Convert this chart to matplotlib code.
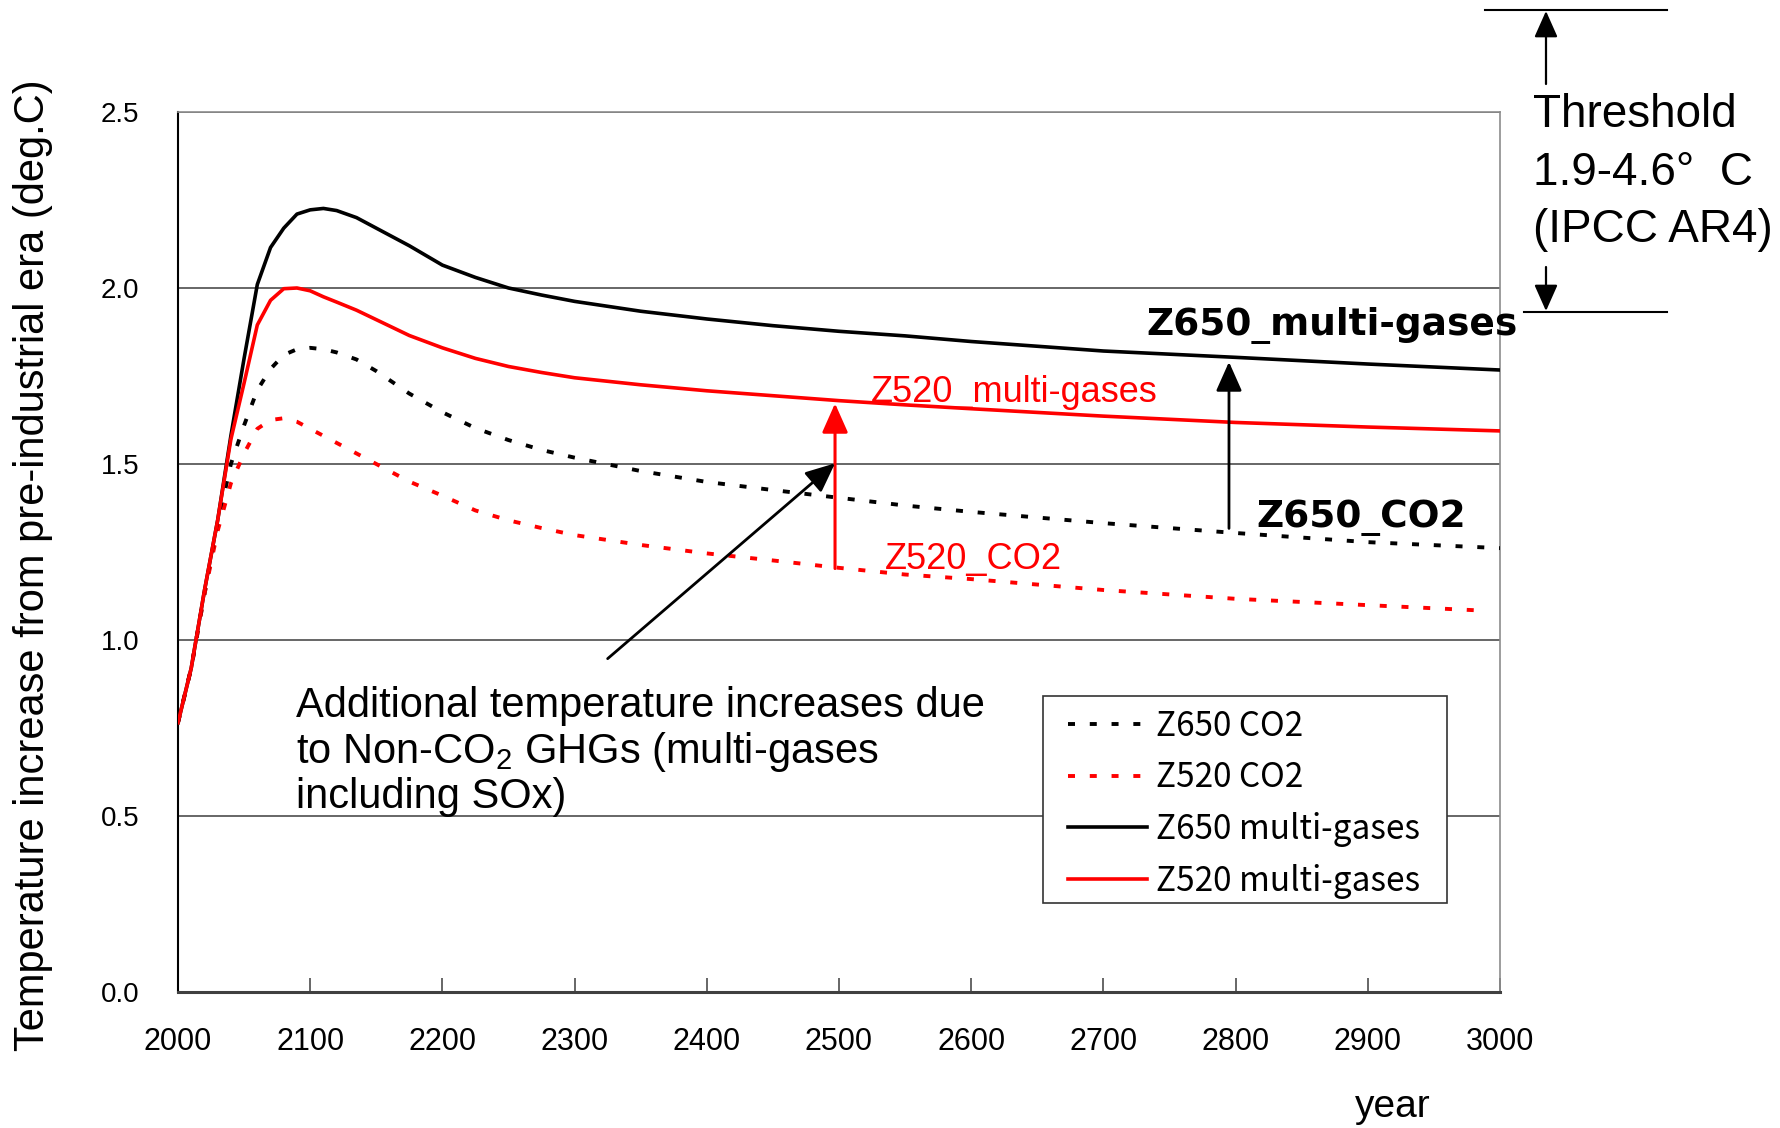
import numpy as np
import matplotlib.pyplot as plt
from matplotlib.lines import Line2D
from matplotlib.patches import Rectangle

plt.rcParams['font.family'] = ['Liberation Sans', 'DejaVu Sans']
plt.rcParams['mathtext.fontset'] = 'custom'
plt.rcParams['mathtext.rm'] = 'Liberation Sans'

# ---------------------------------------------------------------
# data
# ---------------------------------------------------------------
years = [2000, 2010, 2020, 2030, 2040, 2050, 2060, 2070, 2080, 2090,
         2100, 2110, 2120, 2135, 2150, 2175, 2200, 2225, 2250, 2275,
         2300, 2350, 2400, 2450, 2500, 2550, 2600, 2700, 2800, 2900, 3000]

z650_co2 = [0.765, 0.92, 1.13, 1.33, 1.50, 1.61, 1.71, 1.77, 1.81, 1.826,
            1.83, 1.826, 1.817, 1.797, 1.764, 1.70, 1.647, 1.602, 1.568, 1.54,
            1.518, 1.48, 1.449, 1.426, 1.404, 1.382, 1.364, 1.332, 1.304, 1.278, 1.261]

z520_co2 = [0.765, 0.92, 1.13, 1.31, 1.445, 1.53, 1.60, 1.625, 1.63, 1.62,
            1.60, 1.58, 1.56, 1.53, 1.50, 1.45, 1.41, 1.368, 1.34, 1.318,
            1.298, 1.27, 1.246, 1.226, 1.205, 1.186, 1.173, 1.142, 1.117, 1.099, 1.083]
years_520_co2 = years[:-1] + [2990]

z650_multi = [0.765, 0.92, 1.14, 1.34, 1.58, 1.80, 2.01, 2.115, 2.17, 2.21,
              2.222, 2.226, 2.22, 2.20, 2.17, 2.12, 2.065, 2.03, 2.00, 1.98,
              1.962, 1.934, 1.912, 1.893, 1.877, 1.864, 1.848, 1.821, 1.803, 1.784, 1.767]

z520_multi = [0.765, 0.92, 1.14, 1.34, 1.57, 1.73, 1.895, 1.965, 1.998, 2.0,
              1.992, 1.975, 1.96, 1.937, 1.91, 1.865, 1.83, 1.80, 1.777, 1.76,
              1.745, 1.725, 1.708, 1.694, 1.68, 1.668, 1.657, 1.636, 1.618, 1.605, 1.594]

xticks = list(range(2000, 3001, 100))
yticks = [0.0, 0.5, 1.0, 1.5, 2.0, 2.5]

# ---------------------------------------------------------------
# figure
# ---------------------------------------------------------------
fig = plt.figure(figsize=(17.81, 11.28), dpi=100)
ax = fig.add_axes([0.09994, 0.12057, 0.74228, 0.78014])

dash = (0, (1.8, 3.8))
ax.plot(years, z650_co2, color='black', lw=2.8, linestyle=dash, label='Z650 CO2', zorder=3)
ax.plot(years_520_co2, z520_co2, color='red', lw=2.8, linestyle=dash, label='Z520 CO2', zorder=3)
ax.plot(years, z650_multi, color='black', lw=2.6, label='Z650 multi-gases', zorder=4)
ax.plot(years, z520_multi, color='red', lw=2.6, label='Z520 multi-gases', zorder=4)

ax.set_xlim(2000, 3000)
ax.set_ylim(0, 2.5)
ax.set_xticks(xticks)
ax.set_yticks(yticks)
ax.set_yticklabels([f'{v:.1f}' for v in yticks])
ax.yaxis.grid(True, color='0.3', lw=1.2)
ax.set_axisbelow(True)

ax.tick_params(axis='x', direction='in', length=10, width=1.2, color='0.3',
               labelsize=22, pad=25)
ax.tick_params(axis='y', length=0, labelsize=20, pad=28)

for s in ['top', 'right']:
    ax.spines[s].set_color('0.55')
    ax.spines[s].set_linewidth(1.2)
ax.spines['left'].set_color('black')
ax.spines['left'].set_linewidth(1.5)
ax.spines['bottom'].set_color('0.25')
ax.spines['bottom'].set_linewidth(2.2)

fig.text(33 / 1781, 1 - 565 / 1128,
         'Temperature increase from pre-industrial era (deg.C)',
         rotation=90, ha='center', va='center', fontsize=30)
ax.text(0.919, -0.1417, 'year', transform=ax.transAxes,
        ha='center', va='baseline', fontsize=28)

# series labels
ax.text(2732.7, 1.866, 'Z650_multi-gases', fontsize=27, fontweight='bold',
        family='DejaVu Sans', va='baseline', zorder=6)
ax.text(2816, 1.322, 'Z650_CO2', fontsize=27, fontweight='bold',
        family='DejaVu Sans', va='baseline', zorder=6)
ax.text(2524, 1.677, 'Z520_multi-gases', fontsize=26, color='red',
        va='baseline', zorder=6)
ax.text(2535, 1.201, 'Z520_CO2', fontsize=26, color='red',
        va='baseline', zorder=6)

# explanatory note
note_lines = ['Additional temperature increases due',
              'to Non-CO$_\\mathregular{2}$ GHGs (multi-gases',
              'including SOx)']
for txt, yb in zip(note_lines, [0.782, 0.650, 0.522]):
    ax.text(2089.6, yb, txt, fontsize=30, va='baseline', zorder=6)

# arrows inside the plot
head = '-|>,head_length=0.9,head_width=0.4'
ax.annotate('', xy=(2497, 1.672), xytext=(2497, 1.203),
            arrowprops=dict(arrowstyle=head, color='red', lw=2.2, mutation_scale=20,
                            shrinkA=0, shrinkB=0), zorder=5)
ax.annotate('', xy=(2795, 1.79), xytext=(2795, 1.317),
            arrowprops=dict(arrowstyle=head, color='black', lw=2.0, mutation_scale=20,
                            shrinkA=0, shrinkB=0), zorder=5)
ax.annotate('', xy=(2497, 1.502), xytext=(2325, 0.947),
            arrowprops=dict(arrowstyle=head, color='black', lw=2.0, mutation_scale=20,
                            shrinkA=0, shrinkB=0), zorder=5)

# threshold bracket (outside axes, figure fraction)
W, H = 1781.0, 1128.0
fig.add_artist(Line2D([1485 / W, 1667 / W], [1 - 10 / H, 1 - 10 / H], color='black', lw=1.5))
fig.add_artist(Line2D([1524 / W, 1667 / W], [1 - 312 / H, 1 - 312 / H], color='black', lw=1.5))
ax.annotate('', xy=(1546 / W, 1 - 11 / H), xytext=(1546 / W, 1 - 84 / H),
            xycoords='figure fraction', textcoords='figure fraction',
            arrowprops=dict(arrowstyle=head, color='black', lw=1.6, mutation_scale=18,
                            shrinkA=0, shrinkB=0))
ax.annotate('', xy=(1546 / W, 1 - 311 / H), xytext=(1546 / W, 1 - 267 / H),
            xycoords='figure fraction', textcoords='figure fraction',
            arrowprops=dict(arrowstyle=head, color='black', lw=1.6, mutation_scale=18,
                            shrinkA=0, shrinkB=0))
thr_lines = ['Threshold', '1.9-4.6°  C', '(IPCC AR4)']
for txt, yb in zip(thr_lines, [126.7, 185.0, 241.7]):
    fig.text(1533 / W, 1 - yb / H, txt, fontsize=33, va='baseline')

# legend: entries without frame, box drawn separately
ax.add_patch(Rectangle((0.6543, 0.101), 0.3057, 0.2354, transform=ax.transAxes,
                       facecolor='white', edgecolor='0.2', lw=1.2, zorder=7))
leg = ax.legend(loc='upper left', bbox_to_anchor=(0.6732, 0.322), borderaxespad=0,
                prop={'family': ['Noto Sans CJK JP', 'DejaVu Sans'], 'size': 24},
                frameon=False, handlelength=2.37, handletextpad=0.27,
                borderpad=0, labelspacing=0.5)
leg.set_zorder(8)

fig.savefig('out.png', dpi=100)
